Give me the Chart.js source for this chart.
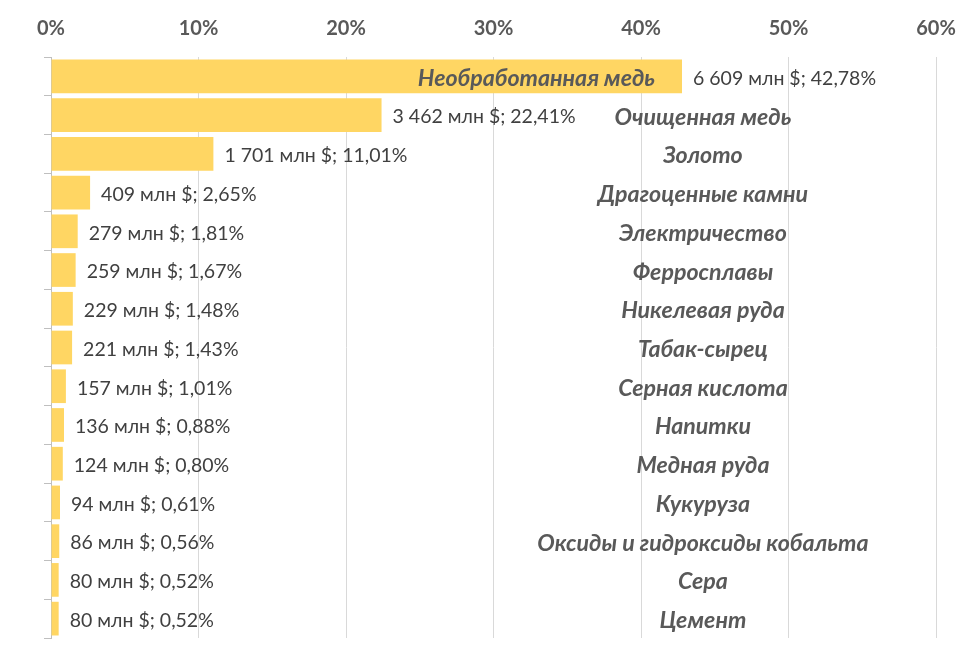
<!DOCTYPE html>
<html>
<head>
<meta charset="utf-8">
<script src="https://cdn.jsdelivr.net/npm/chart.js@4/dist/chart.umd.min.js"></script>
<style>
  html, body { margin: 0; padding: 0; background: #fff; }
  #wrap { width: 980px; height: 662px; }
</style>
</head>
<body>
<div id="wrap"><canvas id="exportsChart"></canvas></div>
<script>
const categories = [
    'Необработанная медь', 'Очищенная медь', 'Золото', 'Драгоценные камни',
    'Электричество', 'Ферросплавы', 'Никелевая руда', 'Табак-сырец',
    'Серная кислота', 'Напитки', 'Медная руда', 'Кукуруза',
    'Оксиды и гидроксиды кобальта', 'Сера', 'Цемент'
];
const valuesMln = [6609, 3462, 1701, 409, 279, 259, 229, 221, 157, 136, 124, 94, 86, 80, 80];
const shares = [42.78, 22.41, 11.01, 2.65, 1.81, 1.67, 1.48, 1.43, 1.01, 0.88, 0.80, 0.61, 0.56, 0.52, 0.52];
const tickValues = [0, 10, 20, 30, 40, 50, 60];

const FONT = 'Lato, "Open Sans", sans-serif';

function fmtMln(v) {
    return String(v).replace(/\B(?=(\d{3})+(?!\d))/g, ' ');
}
function fmtPct(v) {
    return v.toFixed(2).replace('.', ',') + '%';
}

// value labels after the bar end, category names in a column on the right
const labelPlugin = {
    id: 'barLabels',
    afterDatasetsDraw(chart) {
        const ctx = chart.ctx;
        const meta = chart.getDatasetMeta(0);
        const xs = chart.scales.x;
        ctx.save();
        ctx.textBaseline = 'middle';
        meta.data.forEach((bar, i) => {
            ctx.font = '19.5px ' + FONT;
            ctx.fillStyle = '#404040';
            ctx.textAlign = 'left';
            ctx.fillText(fmtMln(valuesMln[i]) + ' млн $; ' + fmtPct(shares[i]), bar.x + 11, bar.y + 2);

            ctx.font = 'italic bold 23.2px ' + FONT;
            ctx.fillStyle = '#595959';
            if (i === 0) {
                ctx.textAlign = 'right';
                ctx.fillText(categories[i], bar.x - 27, bar.y + 2);
            } else {
                ctx.textAlign = 'center';
                ctx.fillText(categories[i], xs.getPixelForValue(44.2), bar.y + 2);
            }
        });
        ctx.restore();
    }
};

new Chart(document.getElementById('exportsChart'), {
    type: 'bar',
    data: {
        labels: categories,
        datasets: [{
            data: shares,
            backgroundColor: '#FFD663',
            borderWidth: 0,
            categoryPercentage: 1,
            barPercentage: 0.87
        }]
    },
    options: {
        indexAxis: 'y',
        responsive: true,
        maintainAspectRatio: false,
        animation: false,
        layout: { padding: { left: 0, right: 44, top: 0, bottom: 24 } },
        plugins: {
            legend: { display: false },
            tooltip: { enabled: false }
        },
        scales: {
            x: {
                position: 'top',
                min: 0,
                max: 60,
                afterBuildTicks(scale) {
                    scale.ticks = tickValues.map(v => ({ value: v }));
                },
                afterFit(scale) { scale.height = 57; },
                grid: { color: '#D9D9D9', lineWidth: 1, drawTicks: false },
                border: { display: false },
                ticks: {
                    padding: 16,
                    color: '#595959',
                    font: { family: FONT, size: 20, weight: 'bold' },
                    callback: v => v + '%'
                }
            },
            y: {
                afterFit(scale) { scale.width = 51; },
                grid: {
                    offset: true,
                    drawOnChartArea: false,
                    tickLength: 7,
                    color: '#BFBFBF'
                },
                border: { display: true, color: '#BFBFBF', width: 1 },
                ticks: { display: false }
            }
        }
    },
    plugins: [labelPlugin]
});
</script>
</body>
</html>
